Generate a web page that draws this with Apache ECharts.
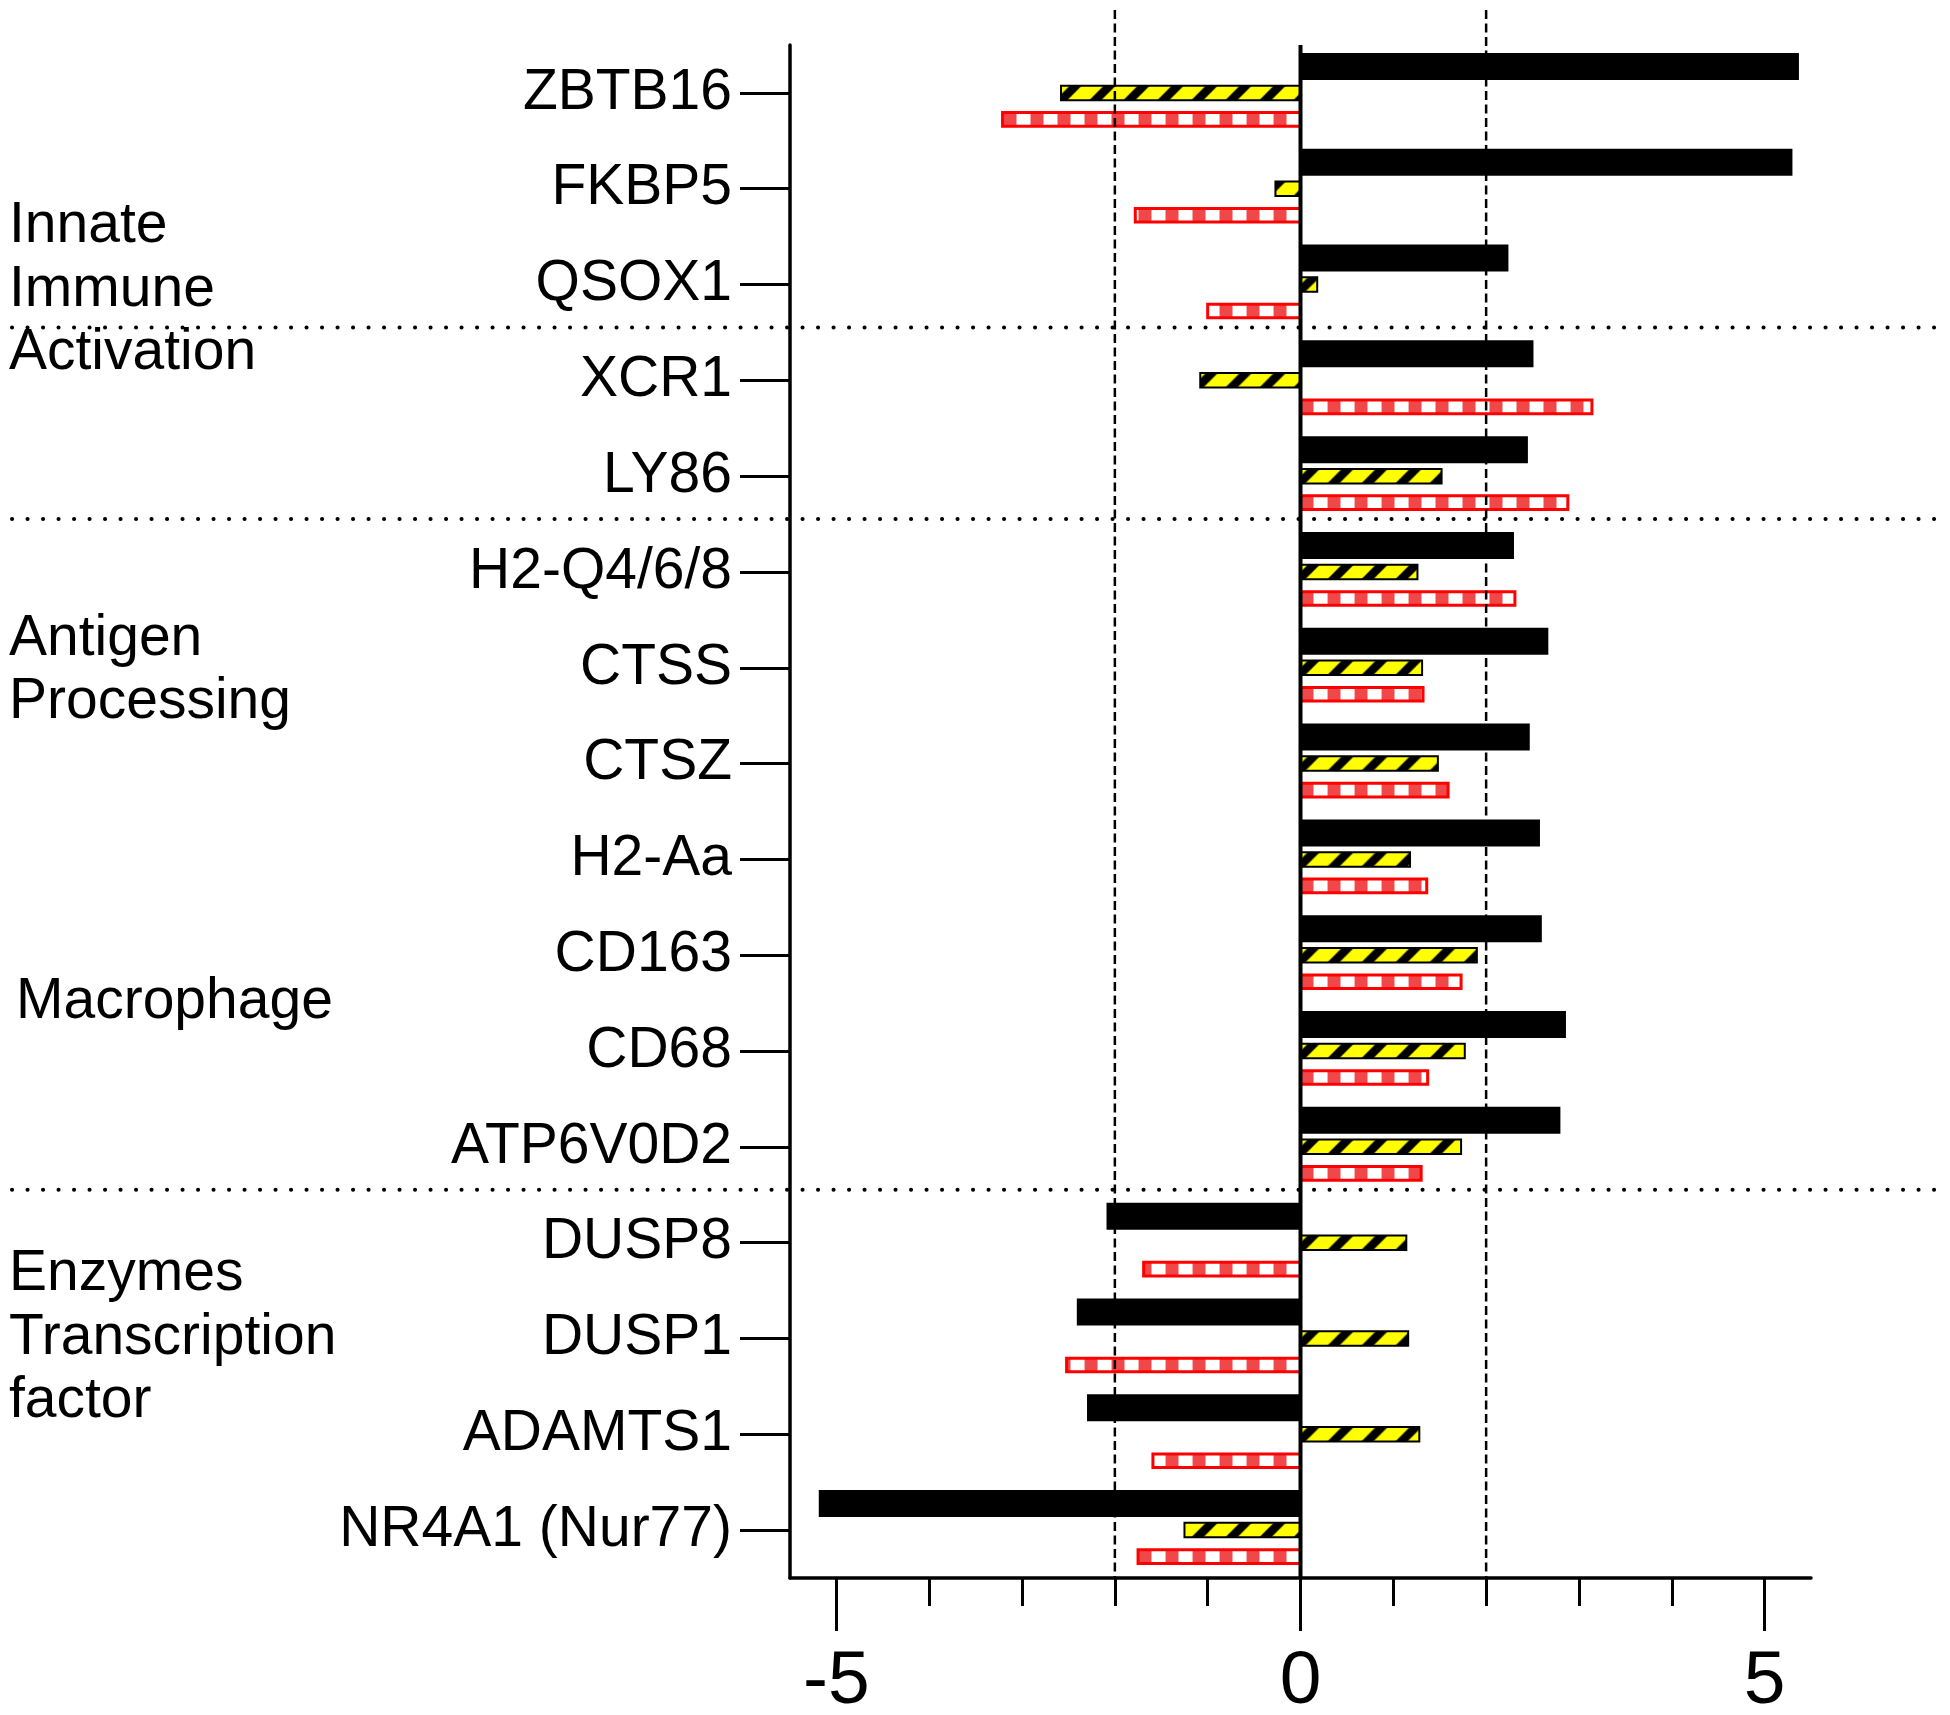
<!DOCTYPE html>
<html lang="en">

<head>
    <meta charset="UTF-8">
    <title>Gene expression</title>
    <script src="https://cdn.jsdelivr.net/npm/echarts@6.0.0/dist/echarts.min.js"></script>
    <style>
        body { margin: 0; background: #fff; }
    </style>
</head>

<body>
    <div id="main" style="width: 1950px;height:1715px;"></div>

    <script type="text/javascript">
        // data
        var genes = ['ZBTB16', 'FKBP5', 'QSOX1', 'XCR1', 'LY86', 'H2-Q4/6/8', 'CTSS', 'CTSZ',
            'H2-Aa', 'CD163', 'CD68', 'ATP6V0D2', 'DUSP8', 'DUSP1', 'ADAMTS1', 'NR4A1 (Nur77)'];
        var blackVals = [5.37, 5.30, 2.24, 2.51, 2.45, 2.30, 2.67, 2.47, 2.58, 2.60, 2.86, 2.80, -2.09, -2.41, -2.30, -5.19];
        var yellowVals = [-2.58, -0.27, 0.18, -1.08, 1.52, 1.26, 1.31, 1.48, 1.18, 1.90, 1.77, 1.73, 1.14, 1.16, 1.28, -1.25];
        var redVals = [-3.21, -1.78, -1.00, 3.14, 2.88, 2.31, 1.32, 1.59, 1.36, 1.73, 1.37, 1.30, -1.69, -2.52, -1.59, -1.75];

        var xMin = -5.5, xMax = 5.5;      // axis line extent
        var tickMin = -5, tickMax = 5;    // labelled tick range
        var tickStep = 5;
        var refLines = [-2, 2];
        var groupEnds = [2, 4, 11]; // dotted line after these genes
        var groupNames = ['Innate\nImmune\nActivation', 'Antigen\nProcessing', 'Macrophage', 'Enzymes\nTranscription\nfactor'];

        var FONT = '"Liberation Sans", Arial, sans-serif';
        var W = 1950, H = 1715;
        var gridLeft = 790, gridRight = 139, gridTop = 45, gridBottom = 137;

        // second grid covers only the labelled range, so its ticks line up with the first one
        var unitPx = (W - gridLeft - gridRight) / (xMax - xMin);
        var tickLeft = gridLeft + (tickMin - xMin) * unitPx;
        var tickRight = gridRight + (xMax - tickMax) * unitPx;

        var myChart = echarts.init(document.getElementById('main'));

        // fill patterns
        function stripeTile() {
            var P = 34, w = 12;
            var c = document.createElement('canvas');
            c.width = P; c.height = P;
            var ctx = c.getContext('2d');
            ctx.fillStyle = '#ffff00';
            ctx.fillRect(0, 0, P, P);
            ctx.fillStyle = '#000';
            for (var k = -P; k <= P; k += P) {
                ctx.beginPath();
                ctx.moveTo(k, P);
                ctx.lineTo(k + w, P);
                ctx.lineTo(k + w + P, 0);
                ctx.lineTo(k + P, 0);
                ctx.closePath();
                ctx.fill();
            }
            return c;
        }
        function ladderTile() {
            var c = document.createElement('canvas');
            c.width = 27; c.height = 4;
            var ctx = c.getContext('2d');
            ctx.fillStyle = '#fff';
            ctx.fillRect(0, 0, 27, 4);
            ctx.fillStyle = '#f04848';
            ctx.fillRect(0, 0, 13, 4);
            return c;
        }
        var yellowFill = { image: stripeTile(), repeat: 'repeat' };
        var redFill = { image: ladderTile(), repeat: 'repeat' };

        // horizontal bar drawn from 0 to value, shifted inside the category band
        function barRenderer(offsetY, thick, style) {
            return function (params, api) {
                var cat = api.value(1);
                var base = api.coord([0, cat]);
                var end = api.coord([api.value(0), cat]);
                var w = end[0] - base[0];
                return {
                    type: 'rect',
                    x: base[0],
                    y: base[1] + offsetY,
                    shape: { x: Math.min(0, w), y: -thick / 2, width: Math.abs(w), height: thick },
                    style: Object.assign({}, style)
                };
            };
        }

        function pairs(vals) {
            return vals.map(function (v, i) { return [v, i]; });
        }

        option = {
            animation: false,
            grid: [
                { left: gridLeft, right: gridRight, top: gridTop, bottom: gridBottom, outerBoundsMode: 'none' },
                { left: tickLeft, right: tickRight, top: gridTop, bottom: gridBottom, outerBoundsMode: 'none' }
            ],
            xAxis: [{
                gridIndex: 0,
                type: 'value',
                min: xMin,
                max: xMax,
                axisLine: { show: true, onZero: false, lineStyle: { color: '#000', width: 3.5 } },
                axisTick: { show: false },
                axisLabel: { show: false },
                splitLine: { show: false }
            }, {
                gridIndex: 1,
                type: 'value',
                min: tickMin,
                max: tickMax,
                interval: tickStep,
                axisLine: { show: false, onZero: false },
                axisTick: { show: true, length: 53, lineStyle: { color: '#000', width: 3 } },
                minorTick: { show: true, splitNumber: 5, length: 28, lineStyle: { color: '#000', width: 3 } },
                axisLabel: { fontSize: 75, margin: 67, color: '#000', fontFamily: FONT },
                splitLine: { show: false }
            }],
            yAxis: [{
                gridIndex: 0,
                type: 'category',
                inverse: true,
                data: genes,
                axisLine: { show: true, onZero: false, lineStyle: { color: '#000', width: 3.5 } },
                axisTick: { show: true, alignWithLabel: true, length: 50, lineStyle: { color: '#000', width: 3 } },
                axisLabel: { interval: 0, fontSize: 57, margin: 58, color: '#000', fontFamily: FONT },
                splitLine: { show: false }
            }, {
                gridIndex: 1,
                type: 'value',
                show: false
            }],
            series: [{
                name: 'black',
                type: 'custom',
                silent: true,
                encode: { x: 0, y: 1 },
                renderItem: barRenderer(-26.5, 27, { fill: '#000' }),
                data: pairs(blackVals)
            }, {
                name: 'yellow',
                type: 'custom',
                silent: true,
                encode: { x: 0, y: 1 },
                renderItem: barRenderer(0, 14.5, { fill: yellowFill, stroke: '#000', lineWidth: 2 }),
                data: pairs(yellowVals)
            }, {
                name: 'red',
                type: 'custom',
                silent: true,
                encode: { x: 0, y: 1 },
                renderItem: barRenderer(26.5, 13.6, { fill: redFill, stroke: '#ff0000', lineWidth: 3 }),
                data: pairs(redVals)
            }]
        };

        myChart.setOption(option);

        // zero line, reference lines and group annotations, placed through the axes
        var bottomY = H - gridBottom;
        var zeroX = myChart.convertToPixel({ xAxisIndex: 0 }, 0);
        var graphics = [{
            type: 'line', z: 9, silent: true,
            shape: { x1: zeroX, y1: gridTop, x2: zeroX, y2: bottomY },
            style: { stroke: '#000', lineWidth: 4 }
        }];
        refLines.forEach(function (v) {
            var px = myChart.convertToPixel({ xAxisIndex: 0 }, v);
            graphics.push({
                type: 'line', z: 10, silent: true,
                shape: { x1: px, y1: 10, x2: px, y2: bottomY },
                style: { stroke: '#000', lineWidth: 2.5, lineDash: [9, 4.5] }
            });
        });
        groupEnds.forEach(function (i) {
            var a = myChart.convertToPixel({ yAxisIndex: 0 }, genes[i]);
            var b = myChart.convertToPixel({ yAxisIndex: 0 }, genes[i + 1]);
            var y = (a + b) / 2 - 5;
            graphics.push({
                type: 'line', z: 10, silent: true,
                shape: { x1: 12, y1: y, x2: 1945, y2: y },
                style: { stroke: '#000', lineWidth: 4, lineDash: [0.1, 15.4], lineCap: 'round' }
            });
        });
        var groupY = [290, 671, 1002, 1338];
        var groupX = [9, 9, 16, 9];
        groupNames.forEach(function (t, i) {
            graphics.push({
                type: 'text', z: 10, silent: true,
                x: groupX[i], y: groupY[i],
                style: {
                    text: t, fontSize: 57, fontFamily: FONT, lineHeight: 63.5,
                    fill: '#000', align: 'left', verticalAlign: 'middle'
                }
            });
        });
        myChart.setOption({ graphic: graphics });
    </script>
</body>

</html>
